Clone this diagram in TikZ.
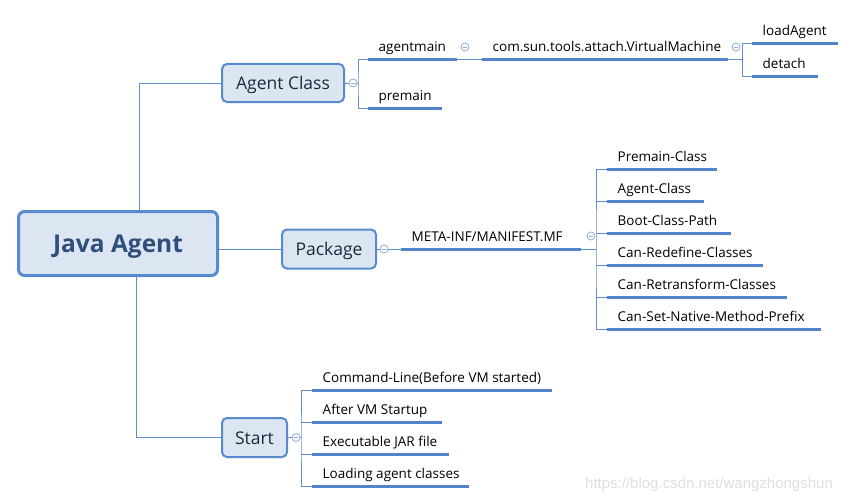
\documentclass[tikz,border=0pt]{standalone}
\usepackage{fontspec}
\setmainfont{Open Sans}
\newfontfamily\wmfont{Liberation Sans}
\definecolor{conncol}{RGB}{96,142,208}
\definecolor{ulcol}{RGB}{82,132,204}
\definecolor{boxfill}{RGB}{220,230,242}
\definecolor{boxdraw}{RGB}{88,138,208}
\definecolor{foldcol}{RGB}{140,172,222}
\definecolor{maintext}{RGB}{48,78,124}
\definecolor{topictext}{RGB}{32,40,56}
\newcommand\mmleaf[5]{%
  \coordinate (#1-a) at (#2,#4);
  \coordinate (#1-b) at (#3,#4);
  \draw[uline] (#1-a) -- (#1-b);
  \node[leaf] (#1) at ([xshift=10.5pt,yshift=8pt]#1-a) {#5};
}
\begin{document}
\begin{tikzpicture}[x=1pt,y=-1pt,
  conn/.style={draw=conncol,line width=1pt},
  uline/.style={draw=ulcol,line width=3pt},
  leaf/.style={anchor=base west,inner sep=0pt,text=black,font=\fontsize{13.5}{13.5}\selectfont},
  mainbox/.style={draw=boxdraw,fill=boxfill,line width=3pt,rounded corners=6pt,minimum width=199pt,minimum height=64pt,inner sep=0pt,text height=17.5pt,text depth=0pt,text=maintext,font=\bfseries\fontsize{24.5}{24.5}\selectfont},
  topic/.style={draw=boxdraw,fill=boxfill,line width=2pt,rounded corners=5pt,inner sep=0pt,text height=13pt,text depth=0pt,text=topictext,font=\fontsize{17.5}{17.5}\selectfont},
  fold/.style={circle,draw=foldcol,line width=0.8pt,fill=white,minimum size=8pt,inner sep=0pt,
    path picture={\draw[foldcol,line width=0.8pt] ([xshift=-2.3pt]path picture bounding box.center) -- ([xshift=2.3pt]path picture bounding box.center);}}
]
\useasboundingbox[fill=white] (0,0) rectangle (856,503);

% main topics
\node[mainbox] (ja) at (118,243.5) {Java Agent};
\node[topic,minimum width=122pt,minimum height=38pt] (ac) at (283,83) {Agent Class};
\node[topic,minimum width=94pt,minimum height=39pt] (pk) at (329,249) {Package};
\node[topic,minimum width=65pt,minimum height=39pt] (st) at (254.5,437.5) {Start};

\draw[conn] ([xshift=21pt]ja.north) |- (ac.west);
\draw[conn] (ja.east |- pk.west) -- (pk.west);
\draw[conn] ([xshift=18pt]ja.south) |- (st.west);

% Agent Class branch
\mmleaf{am}{368}{457}{60}{agentmain}
\mmleaf{pm}{368}{442}{108}{premain}
\node[fold] (f1) at (353,83) {};
\coordinate (b1) at (358,83);
\draw[conn] (ac.east) -- (f1.west);
\draw[conn] (f1.east) -- (b1);
\draw[conn] (am-a) -| (b1) |- (pm-a);

\mmleaf{vm}{482}{728}{60}{com.sun.tools.attach.VirtualMachine}
\node[fold] (f2) at (465,47) {};
\draw[conn] (am-b) -- (vm-a);

\mmleaf{la}{752}{838}{44}{loadAgent}
\mmleaf{de}{752}{818}{76}{detach}
\node[fold] (f3) at (736,47) {};
\coordinate (b3) at (742,60);
\draw[conn] (vm-b) -- (b3);
\draw[conn] (la-a) -| (b3) |- (de-a);

% Package branch
\mmleaf{mf}{401}{581}{249}{META-INF/MANIFEST.MF}
\node[fold] (f4) at (384,249) {};
\draw[conn] (pk.east) -- (f4.west);
\draw[conn] (f4.east) -- (mf-a);

\mmleaf{p1}{607}{717}{169}{Premain-Class}
\mmleaf{p2}{607}{704}{201}{Agent-Class}
\mmleaf{p3}{607}{731}{233}{Boot-Class-Path}
\mmleaf{p4}{607}{763}{265}{Can-Redefine-Classes}
\mmleaf{p5}{607}{787}{297}{Can-Retransform-Classes}
\mmleaf{p6}{607}{821}{329}{Can-Set-Native-Method-Prefix}
\node[fold] (f5) at (591,236) {};
\coordinate (b4) at (596,249);
\draw[conn] (mf-b) -- (b4);
\draw[conn] (p1-a) -| (b4) |- (p6-a);
\draw[conn] (b4 |- p2-a) -- (p2-a);
\draw[conn] (b4 |- p3-a) -- (p3-a);
\draw[conn] (b4 |- p4-a) -- (p4-a);
\draw[conn] (b4 |- p5-a) -- (p5-a);

% Start branch
\mmleaf{s1}{312}{552}{390}{Command-Line(Before VM started)}
\mmleaf{s2}{312}{442}{422}{After VM Startup}
\mmleaf{s3}{312}{449}{454}{Executable JAR file}
\mmleaf{s4}{312}{469}{486}{Loading agent classes}
\node[fold] (f6) at (296,437.5) {};
\coordinate (b6) at (301,437.5);
\draw[conn] (st.east) -- (f6.west);
\draw[conn] (f6.east) -- (b6);
\draw[conn] (s1-a) -| (b6) |- (s4-a);
\draw[conn] (b6 |- s2-a) -- (s2-a);
\draw[conn] (b6 |- s3-a) -- (s3-a);

% watermark
\node[anchor=west,inner sep=0pt,text=black!12,font=\wmfont\fontsize{15}{15}\selectfont] (wm) at (585,485) {https://blog.csdn.net/wangzhongshun};
\end{tikzpicture}
\end{document}
